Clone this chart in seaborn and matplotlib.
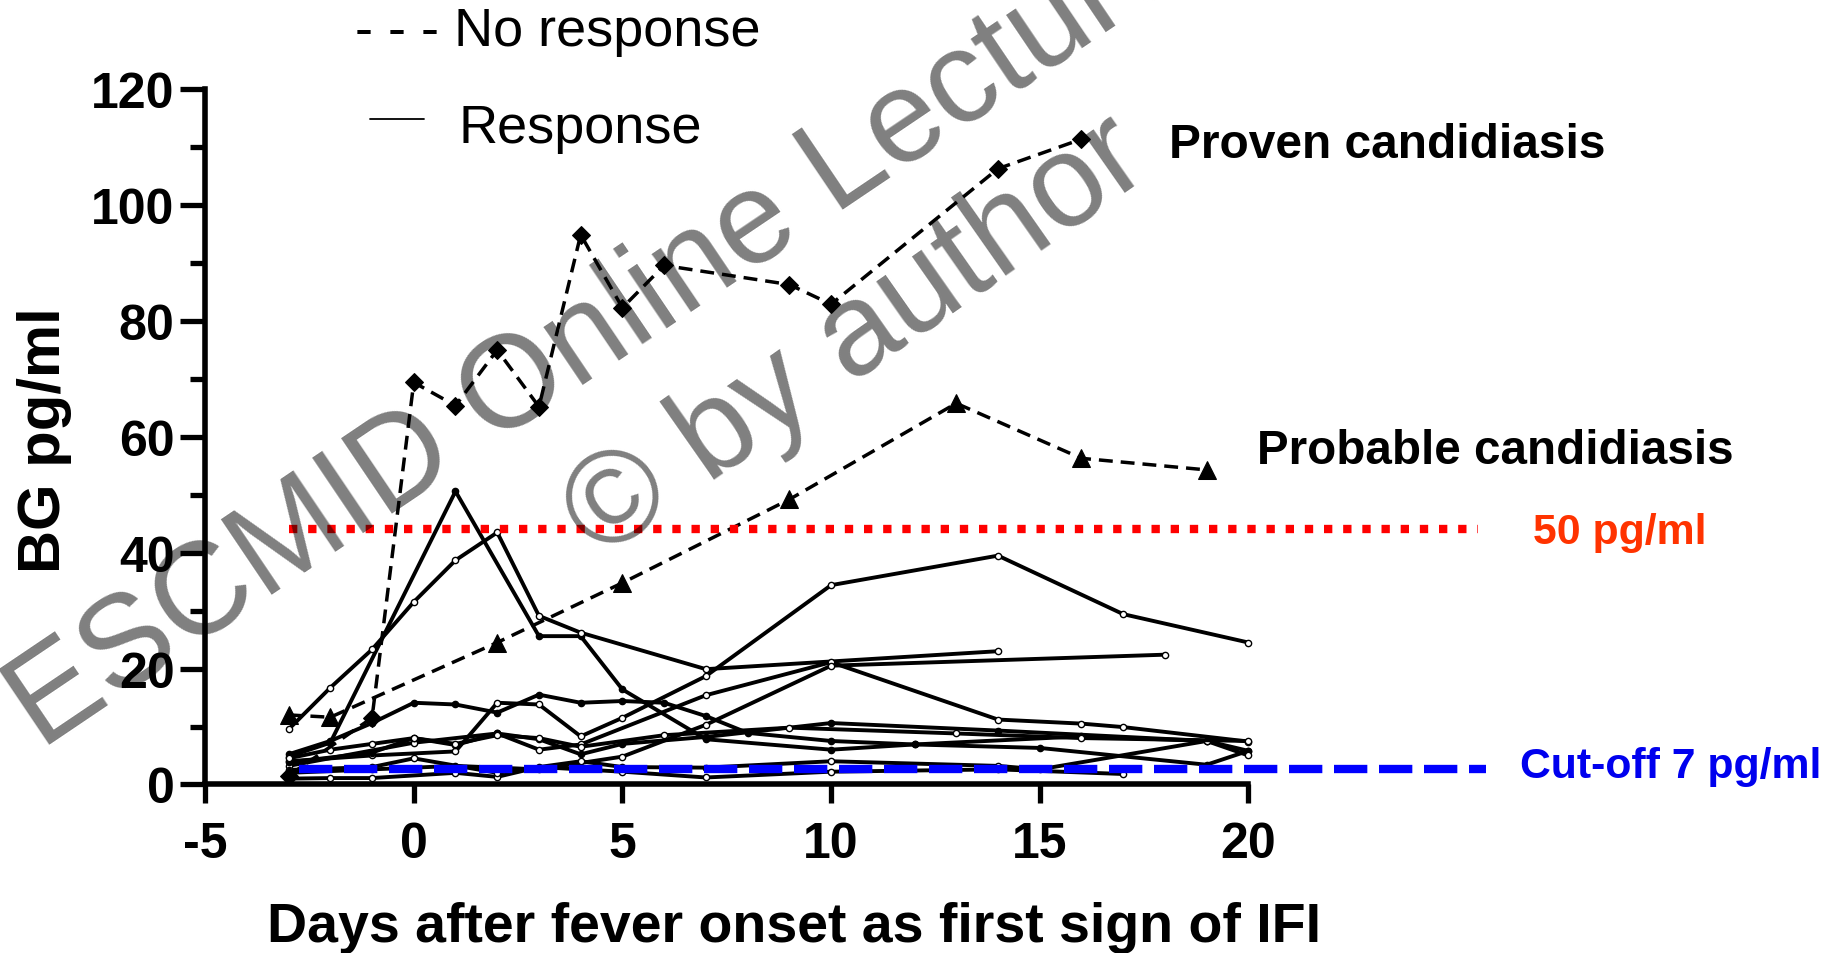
import matplotlib
matplotlib.use("Agg")
import matplotlib.pyplot as plt
import seaborn as sns

# proven candidiasis, no response (diamonds, dashed)
proven_days = [-3, -1, 0, 1, 2, 3, 4, 5, 6, 9, 10, 14, 16]
proven_bg = [1.5, 11.5, 69.4, 65.4, 75.0, 65.2, 94.9, 82.3, 89.6, 86.3, 82.9, 106.3, 111.4]

# probable candidiasis, no response (triangles, dashed)
probable_days = [-3, -2, 2, 5, 9, 13, 16, 19]
probable_bg = [12.0, 11.6, 24.5, 34.8, 49.2, 65.8, 56.3, 54.3]

# responders (solid)
r1_days = [-3, -2, 1, 3, 4, 5, 7, 10, 12, 15, 19, 20]
r1_bg = [4.8, 7.2, 50.6, 25.6, 25.6, 16.4, 7.8, 6.0, 6.9, 6.3, 3.4, 5.8]
r2_days = [-3, -2, -1, 0, 1, 2, 3, 4, 7, 14]
r2_bg = [9.5, 16.7, 23.3, 31.5, 38.7, 43.5, 29.1, 26.2, 19.9, 23.0]
r3_days = [-3, -1, 1, 2, 3, 4, 5, 7, 10, 14, 17, 20]
r3_bg = [4.0, 5.0, 5.7, 14.1, 13.8, 8.3, 11.5, 18.7, 34.4, 39.5, 29.4, 24.5]
r4_days = [-3, 0, 2, 3, 4, 7, 10, 14, 16, 17, 20]
r4_bg = [3.2, 7.2, 8.8, 6.0, 6.9, 15.4, 21.1, 11.2, 10.5, 9.9, 7.4]
r5_days = [-3, -1, 1, 3, 5, 7, 10, 18]
r5_bg = [2.0, 2.6, 3.2, 2.6, 4.8, 10.3, 20.5, 22.4]
r6_days = [-3, -2, -1, 0, 1, 2, 3, 4, 5, 6, 7, 8, 10, 12, 16, 19, 20]
r6_bg = [5.2, 7.5, 10.6, 14.1, 13.8, 12.4, 15.5, 14.1, 14.4, 14.1, 11.8, 8.9, 7.5, 6.9, 8.3, 7.5, 5.8]
r7_days = [-3, -2, -1, 1, 2, 3, 5, 7, 10, 14, 17]
r7_bg = [1.0, 1.1, 1.1, 2.0, 1.3, 3.0, 2.2, 1.2, 2.2, 2.6, 1.8]
r8_days = [-3, -1, 0, 1, 2, 3, 4, 5, 7, 10, 14, 19]
r8_bg = [3.8, 5.5, 8.0, 6.8, 8.8, 7.8, 5.2, 7.0, 8.2, 10.6, 9.3, 7.5]
r9_days = [-3, -1, 0, 2, 4, 5, 7, 10, 14, 15, 19, 20]
r9_bg = [2.5, 3.0, 4.5, 2.0, 4.0, 3.0, 2.9, 4.0, 3.2, 2.6, 7.5, 5.0]
r10_days = [-3, -2, -1, 0, 1, 2, 3, 4, 6, 9, 13, 16, 20]
r10_bg = [4.5, 6.0, 7.0, 8.0, 7.0, 8.5, 8.0, 6.5, 8.5, 9.8, 8.8, 8.0, 7.5]

responders = [(r1_days, r1_bg, "black"), (r2_days, r2_bg, "white"),
              (r3_days, r3_bg, "white"), (r4_days, r4_bg, "white"),
              (r5_days, r5_bg, "white"), (r6_days, r6_bg, "black"),
              (r7_days, r7_bg, "white"), (r8_days, r8_bg, "black"),
              (r9_days, r9_bg, "white"), (r10_days, r10_bg, "white")]

# reference lines
line50_y, line50_x = 44.1, (-3, 25.5)
cutoff_y, cutoff_x = 2.6, (-2.75, 25.7)

sns.set_style("ticks")
plt.rcParams['font.family'] = ['Liberation Sans', 'DejaVu Sans']
plt.rcParams['axes.unicode_minus'] = False
plt.rcParams['text.color'] = 'black'
plt.rcParams['xtick.color'] = 'black'
plt.rcParams['ytick.color'] = 'black'
plt.rcParams['axes.edgecolor'] = 'black'

fig = plt.figure(figsize=(18.38, 9.54), dpi=100)
ax = fig.add_axes([0.1116, 0.1767, 0.8884, 0.7286])

for d, v, fc in responders:
    sns.lineplot(x=d, y=v, ax=ax, color="black", lw=2.8, marker="o", ms=4.5,
                 mfc=fc, mec="black", mew=1, sort=False)

sns.lineplot(x=proven_days, y=proven_bg, ax=ax, color="black", lw=2.5,
             linestyle=(0, (4, 2.3)), marker="D", ms=9, mfc="black", mec="black", sort=False)
sns.lineplot(x=probable_days, y=probable_bg, ax=ax, color="black", lw=2.5,
             linestyle=(0, (4, 2.3)), marker="^", ms=12.5, mfc="black", mec="black", sort=False)

ax.hlines(line50_y, *line50_x, color="#ff0000", lw=6, linestyles=[(0, (1, 1.3))])
ax.hlines(cutoff_y, *cutoff_x, color="#0000ff", lw=6, linestyles=[(0, (4, 1.4))], zorder=3)

ax.set_xlim(-5, 34.13)
ax.set_ylim(0, 120)
sns.despine(ax=ax)
ax.spines['left'].set_bounds(0, 120)
ax.spines['bottom'].set_bounds(-5, 20)
for s in ['left', 'bottom']:
    ax.spines[s].set_linewidth(4)
ax.set_xticks([-5, 0, 5, 10, 15, 20])
ax.set_yticks([0, 20, 40, 60, 80, 100, 120])
ax.set_yticks([10, 30, 50, 70, 90, 110], minor=True)
ax.tick_params(axis='both', which='major', direction='out', length=18, width=3.8,
               labelsize=36, color='black', labelcolor='black')
ax.tick_params(axis='y', which='minor', direction='out', length=11, width=3.8)
ax.tick_params(axis='x', which='major', length=14, pad=12)
ax.tick_params(axis='y', pad=4)
for lab in ax.get_xticklabels() + ax.get_yticklabels():
    lab.set_fontweight('bold')

fig.text(794 / 1838, 1 - 928 / 954, "Days after fever onset as first sign of IFI",
         ha="center", va="center", fontsize=40, fontweight="bold")
fig.text(44.5 / 1838, 1 - 440 / 954, "BG pg/ml", ha="center", va="center",
         rotation=90, fontsize=43, fontweight="bold")

ax.text(18.09, 110.5, "Proven candidiasis", fontsize=34.5, fontweight="bold", va="center")
ax.text(20.2, 57.7, "Probable candidiasis", fontsize=34.3, fontweight="bold", va="center")
ax.text(26.83, 43.5, "50 pg/ml", fontsize=30.8, fontweight="bold", color="#ff3300", va="center")
ax.text(26.52, 3.2, "Cut-off 7 pg/ml", fontsize=30.8, fontweight="bold", color="#0000ee", va="center")

ax.text(-1.4, 130.0, "- - - No response", fontsize=39, va="center")
ax.text(1.07, 113.4, "Response", fontsize=39, va="center")
ax.plot([-1.04, 0.25], [114.8, 114.8], color="black", lw=1.3, clip_on=False)

# watermark
ax.text(-8.93, 6.07, "ESCMID Online Lecture Library", fontsize=94, color="black", alpha=0.5,
        rotation=34, rotation_mode="anchor", ha="left", va="baseline", zorder=10)
ax.text(4.45, 38.8, "\u00a9 by author", fontsize=94, color="black", alpha=0.5,
        rotation=35, rotation_mode="anchor", ha="left", va="baseline", zorder=10)

fig.savefig("out.png", dpi=100)
